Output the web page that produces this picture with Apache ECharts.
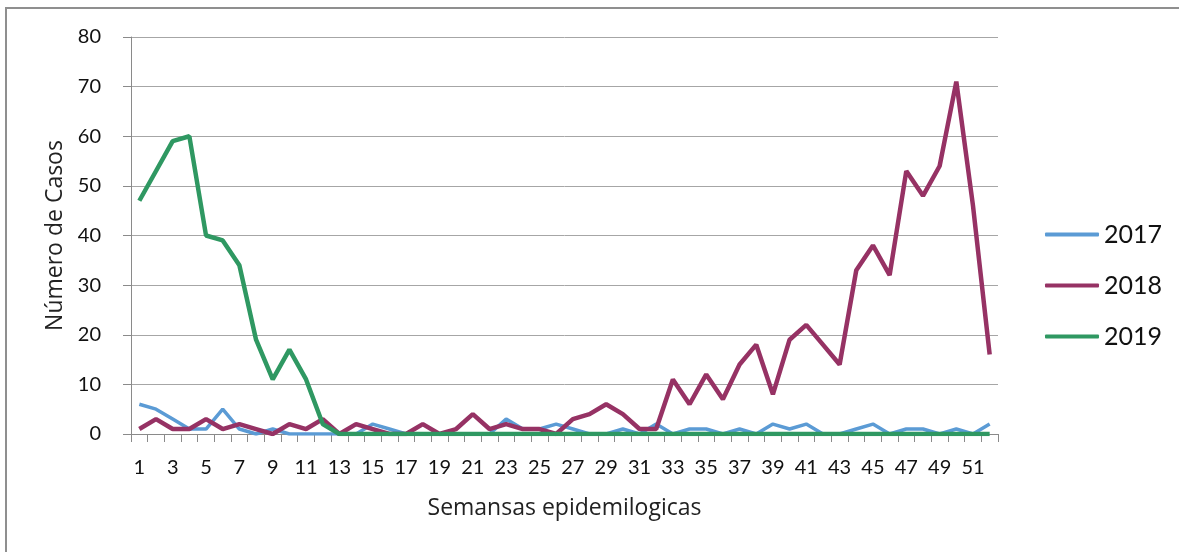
<!DOCTYPE html>
<html>
<head>
<meta charset="utf-8">
<script src="https://cdn.jsdelivr.net/npm/echarts@6/dist/echarts.min.js"></script>
<style>
  body { margin: 0; background: #fff; }
  #frame { position: absolute; left: 5px; top: 7px; width: 1200px; height: 600px;
           border-left: 2px solid #8f8f8f; border-top: 2px solid #8f8f8f; }
  #main { position: absolute; left: 0; top: 0; width: 1179px; height: 552px; }
</style>
</head>
<body>
<div id="frame"></div>
<div id="main"></div>
<script>
// semanas 1..52
var weeks = [];
for (var w = 1; w <= 52; w++) weeks.push(String(w));

var y2017 = [6,5,3,1,1,5,1,0,1,0,0,0,0, 0,2,1,0,0,0,0,0,0,3,1,1, 2,1,0,0,1,0,2,0,1,1,0,1,0, 2,1,2,0,0,1,2,0,1,1,0,1,0,2];
var y2018 = [1,3,1,1,3,1,2,1,0,2,1,3,0, 2,1,0,0,2,0,1,4,1,2,1,1, 0,3,4,6,4,1,1,11,6,12,7,14,18, 8,19,22,18,14,33,38,32,53,48,54,71,46,16];
var y2019 = [47,53,59,60,40,39,34,19,11,17,11,2,0, 0,0,0,0,0,0,0,0,0,0,0,0, 0,0,0,0,0,0,0,0,0,0,0,0,0, 0,0,0,0,0,0,0,0,0,0,0,0,0,0];

var fontFam = 'Lato, "Open Sans", sans-serif';
var nameFam = '"Open Sans", Lato, sans-serif';

var myChart = echarts.init(document.getElementById('main'), null, { renderer: 'canvas' });
myChart.setOption({
  animation: false,
  grid: { left: 131, right: 181, top: 37, bottom: 118, containLabel: false },
  legend: {
    orient: 'vertical',
    left: 1040,
    top: 217,
    itemWidth: 54,
    itemHeight: 4,
    itemGap: 26,
    icon: 'roundRect',
    textStyle: { fontFamily: fontFam, fontSize: 25, color: '#111' },
    data: ['2017', '2018', '2019']
  },
  xAxis: {
    type: 'category',
    data: weeks,
    boundaryGap: true,
    name: 'Semansas epidemilogicas',
    nameLocation: 'middle',
    nameGap: 63,
    nameTextStyle: { fontFamily: nameFam, fontSize: 23, color: '#222' },
    axisLine: { lineStyle: { color: '#8a8a8a', width: 1 } },
    axisTick: { show: true, interval: 0, length: 8, lineStyle: { color: '#8a8a8a' } },
    axisLabel: { interval: 1, margin: 24, fontFamily: fontFam, fontSize: 20, color: '#111' },
    splitLine: { show: false }
  },
  yAxis: {
    type: 'value',
    min: 0,
    max: 80,
    interval: 10,
    name: 'Número de Casos',
    nameLocation: 'middle',
    nameGap: 63,
    nameTextStyle: { fontFamily: nameFam, fontSize: 23, color: '#222' },
    axisLine: { show: true, lineStyle: { color: '#8a8a8a', width: 1 } },
    axisTick: { show: true, length: 8, lineStyle: { color: '#8a8a8a' } },
    axisLabel: { margin: 30, fontFamily: fontFam, fontSize: 20, color: '#111' },
    splitLine: { lineStyle: { color: '#a6a6a6', width: 1 } }
  },
  series: [
    {
      name: '2017', type: 'line', data: y2017, symbol: 'none',
      lineStyle: { color: '#5b9bd5', width: 3.5 }, itemStyle: { color: '#5b9bd5' }
    },
    {
      name: '2018', type: 'line', data: y2018, symbol: 'none',
      lineStyle: { color: '#963264', width: 4.5 }, itemStyle: { color: '#963264' }
    },
    {
      name: '2019', type: 'line', data: y2019, symbol: 'none',
      lineStyle: { color: '#2f9862', width: 4.5 }, itemStyle: { color: '#2f9862' }
    }
  ]
});
</script>
</body>
</html>
